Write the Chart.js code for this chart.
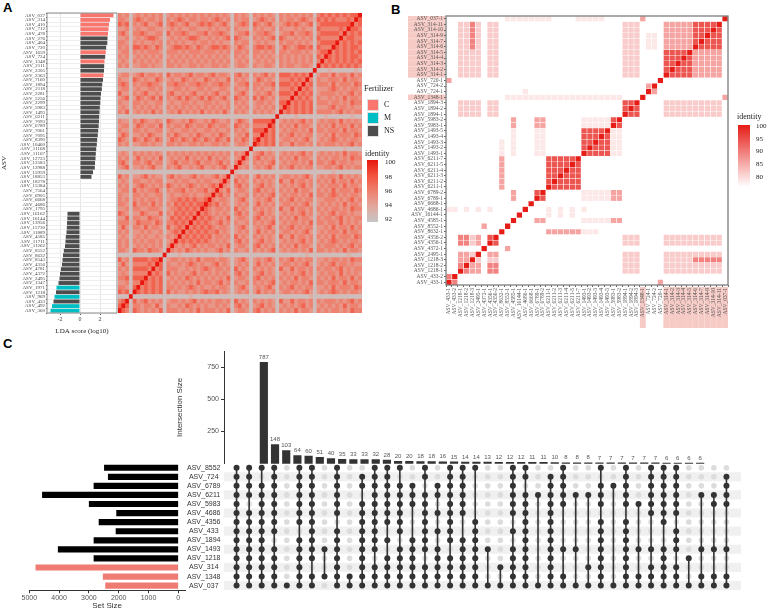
<!DOCTYPE html>
<html>
<head>
<meta charset="utf-8">
<title>LDA, identity heatmaps and UpSet plot</title>
<script src="https://cdn.jsdelivr.net/npm/chart.js@4.4.1/dist/chart.umd.min.js"></script>
<style>
  body { margin: 0; width: 767px; height: 611px; position: relative; overflow: hidden; background: #fff; }
  canvas { position: absolute; }
  .t { position: absolute; white-space: nowrap; color: #222; line-height: 1; }
  .serif { font-family: "Liberation Serif", "DejaVu Serif", serif; }
  .panel { font-family: "Liberation Sans", Arial, sans-serif; font-weight: bold; font-size: 13px; color: #000; }
  .key { position: absolute; width: 12px; height: 12px; border: 1px solid #e0e0e0; box-sizing: border-box; }
  .bar { position: absolute; }
</style>
</head>
<body>
<div class="t panel" style="left:3px;top:1px">A</div>
<div class="t panel" style="left:391px;top:3px">B</div>
<div class="t panel" style="left:3px;top:337px">C</div>

<canvas id="aBars" width="120" height="335" style="left:0;top:0"></canvas>
<canvas id="aHeat" width="244" height="300" style="left:118px;top:13px"></canvas>

<!-- legend of panel A -->
<div class="t serif" style="left:364px;top:85px;font-size:8px">Fertilizer</div>
<div class="key" id="keyC" style="left:367px;top:99px"></div>
<div class="key" id="keyM" style="left:367px;top:112px"></div>
<div class="key" id="keyNS" style="left:367px;top:125px"></div>
<div class="t serif" style="left:384px;top:101px;font-size:8px">C</div>
<div class="t serif" style="left:384px;top:114px;font-size:8px">M</div>
<div class="t serif" style="left:384px;top:127px;font-size:8px">NS</div>
<div class="t serif" style="left:365px;top:150px;font-size:8px">identity</div>
<div class="bar" id="barA" style="left:367px;top:160px;width:11px;height:62px"></div>
<div class="t serif" style="left:385px;top:159px;font-size:7px">100</div>
<div class="t serif" style="left:385px;top:174px;font-size:7px">98</div>
<div class="t serif" style="left:385px;top:188px;font-size:7px">96</div>
<div class="t serif" style="left:385px;top:202px;font-size:7px">94</div>
<div class="t serif" style="left:385px;top:216px;font-size:7px">92</div>

<canvas id="bHeat" width="335" height="320" style="left:400px;top:10px"></canvas>

<!-- legend of panel B -->
<div class="t serif" style="left:737px;top:113px;font-size:8px">identity</div>
<div class="bar" id="barB" style="left:738px;top:125px;width:12px;height:62px"></div>
<div class="t serif" style="left:756px;top:123px;font-size:7px">100</div>
<div class="t serif" style="left:756px;top:136px;font-size:7px">95</div>
<div class="t serif" style="left:756px;top:148px;font-size:7px">90</div>
<div class="t serif" style="left:756px;top:161px;font-size:7px">85</div>
<div class="t serif" style="left:756px;top:174px;font-size:7px">80</div>

<canvas id="cSets" width="240" height="155" style="left:0;top:456px"></canvas>
<canvas id="cInter" width="568" height="130" style="left:175px;top:340px"></canvas>
<canvas id="cMatrix" width="568" height="136" style="left:175px;top:458px"></canvas>

<script>
// ---------- panel A: LDA scores ----------
const ldaAsv = ['ASV_037','ASV_314','ASV_410','ASV_712','ASV_478','ASV_276','ASV_404','ASV_720','ASV_1659','ASV_724',
  'ASV_1348','ASV_2111','ASV_2305','ASV_2363','ASV_7160','ASV_1894','ASV_2118','ASV_2281','ASV_5256','ASV_2299',
  'ASV_5983','ASV_1493','ASV_6211','ASV_7093','ASV_6789','ASV_7061','ASV_7095','ASV_8390','ASV_10460','ASV_11168',
  'ASV_11167','ASV_12723','ASV_12583','ASV_12988','ASV_15959','ASV_18853','ASV_18278','ASV_15384','ASV_7564','ASV_6905',
  'ASV_6668','ASV_4686','ASV_1795','ASV_16162','ASV_16144','ASV_13956','ASV_15730','ASV_11889','ASV_4585','ASV_11711',
  'ASV_11262','ASV_8552','ASV_8632','ASV_8543','ASV_4356','ASV_4781','ASV_4372','ASV_2495','ASV_1347','ASV_1971',
  'ASV_1218','ASV_969','ASV_433','ASV_492','ASV_360'];
const ldaScore = [3.35, 3.0, 2.9, 2.85, 2.8, 2.75, 2.73, 2.62, 2.58, 2.52,
  2.45, 2.42, 2.4, 2.35, 2.3, 2.22, 2.18, 2.1, 2.05, 2.02,
  1.98, 1.95, 1.92, 1.9, 1.87, 1.82, 1.78, 1.72, 1.68, 1.62,
  1.58, 1.55, 1.5, 1.48, 1.3, 1.15, null, null, null, null,
  null, null, null, -1.25, -1.27, -1.3, -1.32, -1.35, -1.42, -1.45,
  -1.5, -1.62, -1.7, -1.75, -1.8, -1.9, -2.0, -2.05, -2.15, -2.35,
  -2.4, -2.55, -2.65, -2.8, -2.95];
const ldaGroup = ['C','C','C','C','C','NS','NS','NS','C','NS',
  'C','NS','NS','C','NS','NS','NS','NS','NS','NS',
  'NS','NS','NS','NS','NS','NS','NS','NS','NS','NS',
  'NS','NS','NS','NS','NS','NS','NS','NS','NS','NS',
  'NS','NS','NS','NS','NS','NS','NS','NS','NS','NS',
  'NS','NS','NS','NS','NS','NS','NS','NS','NS','M',
  'NS','M','NS','M','M'];
const ldaTicks = [-2, 0, 2];
const fertColours = { C: '#F8766D', M: '#00BFC4', NS: '#4D4D4D' };

// panel A identity: lower triangle, row i holds pairs (i, j<i); digits are identity levels
const aLevels = { '0': 92.6, '1': 93.6, '2': 94.9, '3': 95.9, '4': 97.3 };
const aLower = ['',
  '4', '43', '344', '4343', '33443', '434343', '3443434', '43434343', '344343434', '4343434343',
  '3434343434 3',
  '0100000010 00',
  '3242332423 320',
  '2332423332 2303',
  '3423332423 33043',
  '2332323432 220343',
  '3243232333 3204343',
  '2332423232 23034343',
  '3342323323 330434343',
  '2232332432 2204343434',
  '3323243233 3304343434 3',
  '0010000001 0000000100 00',
  '2323242332 3203243232 320',
  '3242332423 2302332423 2304',
  '2332423332 3304232332 32043',
  '3423332423 2203323243 230434',
  '2332323432 3202432323 3204343',
  '3243232333 2303233242 23043434',
  '0000100000 0000000000 000010000',
  '2332423232 3203243232 3202324320',
  '3342323323 2302332423 2303232430 3',
  '2232332432 3304232332 3204323230 23',
  '3323243233 2203323243 2302432320 323',
  '0000000100 0000000000 0000000000 0001',
  '2323242332 3202432323 3203232420 32320',
  '3242332423 2303233242 2402323230 232403',
  '2332423332 3203243232 3202324320 3243023',
  '3423332423 2302332423 2303232430 23320423',
  '2332323432 3304232332 3204323230 322303243',
  '3243232333 2203323243 2302432320 2432023323',
  '2332423232 3202432323 3203232420 3232023243 4',
  '3342323323 2303233242 2402323230 2324032332 34',
  '2232332432 3203243232 3202324320 3243023232 343',
  '3323243233 2302332423 2303232430 2332042323 4343',
  '2323242332 3304232332 3204323230 3223032432 34343',
  '3242332423 2203323243 2302432320 2432023323 434343',
  '2332423332 3202432323 3203232420 3232023243 3434343',
  '3423332423 2303233242 2402323230 2324032332 43434343',
  '2332323432 3203243232 3202324320 3243023232 343434343',
  '3243232333 2302332423 2303232430 2332042323 3232432323',
  '2332423232 3304232332 3204323230 3223032432 2323234232 3',
  '0001000000 0000100000 0000000000 0000000100 0000000010 00',
  '3342323323 2203323243 2302432320 2432023323 3324232323 320',
  '2232332432 3202432323 3203232420 3232023243 2232343232 2304',
  '3323243233 2303233242 2402323230 2324032332 3432323223 33043',
  '2323242332 3203243232 3202324320 3243023232 3232432323 240343',
  '3242332423 2302332423 2303232430 2332042323 2323234232 3204343',
  '2332423332 3304232332 3204323230 3223032432 3324232323 23043434',
  '3423332423 2203323243 2302432320 2432023323 2232343232 330434343',
  '2332323432 3202432323 3203232420 3232023243 3432323223 2404343434',
  '0000000000 0001000000 0000000000 0000000000 0000010000 0000000000 0',
  '3243232333 2303233242 2402323230 2324032332 3232432323 3203232432 40',
  '2332423232 3203243232 3202324320 3243023232 2323234232 2302423323 304',
  '3342323323 2302332423 2303232430 2332042323 3324232323 3304232323 4034'];

// ---------- panel B: pairwise identity of sequence variants ----------
const bAsv = ['ASV_433-1','ASV_433-2','ASV_1218-1','ASV_1218-2','ASV_1218-3','ASV_2495-1','ASV_4372-1','ASV_4356-1',
  'ASV_4356-2','ASV_8632-1','ASV_8552-1','ASV_4585-1','ASV_16144-1','ASV_4686-1','ASV_6668-1','ASV_6789-1',
  'ASV_6789-2','ASV_6211-1','ASV_6211-2','ASV_6211-3','ASV_6211-4','ASV_6211-5','ASV_6211-7','ASV_1493-1',
  'ASV_1493-2','ASV_1493-3','ASV_1493-4','ASV_1493-5','ASV_5983-1','ASV_5983-2','ASV_1894-1','ASV_1894-2',
  'ASV_1894-3','ASV_1348-1','ASV_724-1','ASV_724-2','ASV_720-1','ASV_314-1','ASV_314-2','ASV_314-3',
  'ASV_314-4','ASV_314-5','ASV_314-6','ASV_314-7','ASV_314-9','ASV_314-10','ASV_314-11','ASV_037-1'];
const bGroupC = ['ASV_037', 'ASV_314', 'ASV_1348'];
const bLevels = { '.': 80, a: 82, b: 84.5, c: 88, d: 91, e: 95, f: 100 };
const bRows = [
  'fd...... ........ ........ ........ ....c... ........',
  'df...... ........ ........ ........ ........ ........',
  '..fdcc.d d....... ........ ......bb b....bbb bbbbbbb.',
  '..dfcc.d d....... ........ ......bb b....bbb bbbbbbb.',
  '..ccfb.b b....... ........ ......bb b....bbb bbddddd.',
  '..ccbf.c c....... ........ ......bb b....bbb bbbbbbb.',
  '......f. ..c..... ........ ........ ........ ........',
  '..ddbc.f e....... ........ ......bb b....bbb bbbbbbb.',
  '..ddbc.e f....... ........ ......bb b....bbb bbbbbbb.',
  '........ .f...... .cccccca aa...... ........ ........',
  '......c. ..f..... ........ ........ ........ ........',
  '........ ...f...c c......a aaaacc.. ........ ........',
  '........ ....f... .a.a.a.. ........ ........ ........',
  'aa.a.a.a .....f.. .a.a.a.a ........ ........ ........',
  '........ ......f. ........ ........ ........ ........',
  '........ ...c...f e......a aaaacc.. ........ ........',
  '........ ...c...e f......a aaaacc.. ........ ........',
  '........ .c...... .feeeee. ........ ........ ........',
  '........ .c...... .efeeee. ........ ........ ........',
  '........ .c...... .eefeee. ........ ........ ........',
  '........ .c...... .eeefee. ........ ........ ........',
  '........ .c...... .eeeefe. ........ ........ ........',
  '........ .c...... .eeeeef. ........ ........ ........',
  '........ .a.a...a a......f eeeeaa.. ........ ........',
  '........ .a.a...a a......e feeeaa.. ........ ........',
  '........ .a.a...a a......e efeeaa.. ........ ........',
  '........ ...a...a a......e eefeaa.. ........ ........',
  '........ ...a...a a......e eeefaa.. ........ ........',
  '........ ...c...c c......a aaaafe.. ........ ........',
  '........ ...c...c c......a aaaaef.. ........ ........',
  '..bbbb.b b....... ........ ......fe e....bbb bbbbbbb.',
  '..bbbb.b b....... ........ ......ef e....bbb bbbbbbb.',
  '..bbbb.b b....... ........ ......ee f....bbb bbbbbbb.',
  '........ ..aaaaaa aaaaaaaa aaaaaa.. .f...... .......c',
  '........ .....a.. ........ ........ ..fc.... ........',
  '........ ........ ........ ........ ..cf.... ........',
  'c....... ........ ........ ........ ....f... ........',
  '..bbbb.b b....... ........ ......bb b....fee eeccccc.',
  '..bbbb.b b....... ........ ......bb b....efe eeccccc.',
  '..bbbb.b b....... ........ ......bb b....eef eeccccc.',
  '..bbbb.b b....... ........ ......bb b....eee feccccc.',
  '..bbbb.b b....... ........ ......bb b....eee efccccc.',
  '..bbdb.b b....... ........ ......bb b.aa.ccc ccfeeee.',
  '..bbdb.b b....... ........ ......bb b.aa.ccc ccefeee.',
  '..bbdb.b b....... ........ ......bb b.aa.ccc cceefee.',
  '..bbdb.b b....... ........ ......bb b....ccc cceeefe.',
  '..bbdb.b b....... ........ ......bb b....ccc cceeeef.',
  '........ ..aaaaaa aa....aa aaa..... .c...... .......f'];

// ---------- panel C: UpSet ----------
const setNames = ['ASV_8552','ASV_724','ASV_6789','ASV_6211','ASV_5983','ASV_4686','ASV_4356',
  'ASV_433','ASV_1894','ASV_1493','ASV_1218','ASV_314','ASV_1348','ASV_037'];
const setSizes = [2480, 2350, 2830, 4560, 2990, 2070, 2660, 2090, 2830, 4030, 2830, 4780, 2520, 2440];
const setGroup = ['NS','NS','NS','NS','NS','NS','NS','NS','NS','NS','NS','C','C','C'];
const setTicks = [0, 1000, 2000, 3000, 4000, 5000];
const interSizes = [787, 148, 103, 64, 60, 51, 40, 35, 33, 33, 32, 28, 20, 20, 18, 18, 16, 15, 14, 14,
  13, 12, 12, 12, 11, 11, 10, 8, 8, 8, 7, 7, 7, 7, 7, 7, 6, 6, 6, 6];
const interTicks = [250, 500, 750];
// one string per intersection, one character per set (top row first): 1 = member
const interMembers = ['11111111111111','11110111111111','10111111111111','11111111011111','00000000000001',
  '11111110111111','11111111111011','00000000010010','11111101111111','00000000000011',
  '01101111111111','11111111110111','11111110101111','10111111011111','00111000111111',
  '11011111110111','00110101011111','11111111101111','11111100111111','10000011111111',
  '00000000010001','00000000000101','11111101011111','11011111111111','00010000000001',
  '01111111111111','11111000010011','00010000010001','00010000000101','10111011111111',
  '00100000000001','11111011111111','00001000010011','11111100010111','11111110011111',
  '11111101110111','00000000001001','00010000010011','00011000010011','01111000010011'];

// ---------- helpers ----------
const serif = '"Liberation Serif", "DejaVu Serif", serif';
const sans = '"Liberation Sans", Arial, sans-serif';
const stopsA = [[92, [198, 198, 198]], [94, [226, 168, 158]], [96, [238, 128, 110]], [98, [242, 82, 62]], [100, [232, 22, 14]]];
const stopsB = [[80, [255, 255, 255]], [100, [230, 28, 22]]];

function ramp(stops, v) {
  if (v <= stops[0][0]) return `rgb(${stops[0][1].join(',')})`;
  for (let i = 1; i < stops.length; i++) {
    if (v <= stops[i][0]) {
      const [v0, c0] = stops[i - 1], [v1, c1] = stops[i];
      const t = (v - v0) / (v1 - v0);
      return `rgb(${c0.map((c, j) => Math.round(c + (c1[j] - c) * t)).join(',')})`;
    }
  }
  return `rgb(${stops[stops.length - 1][1].join(',')})`;
}
function gradient(stops) {
  const lo = stops[0][0], hi = stops[stops.length - 1][0];
  return 'linear-gradient(to top,' + stops.map(s => `rgb(${s[1].join(',')}) ${((s[0] - lo) / (hi - lo) * 100).toFixed(0)}%`).join(',') + ')';
}

const aTri = aLower.map(s => s.replace(/ /g, ''));
function identityA(i, j) {
  if (i === j) return 100;
  const ch = i > j ? aTri[i][j] : aTri[j][i];
  return aLevels[ch] ?? aLevels['2'];
}
const bCells = bRows.map(s => s.replace(/ /g, ''));

document.getElementById('keyC').style.background = fertColours.C;
document.getElementById('keyM').style.background = fertColours.M;
document.getElementById('keyNS').style.background = fertColours.NS;
document.getElementById('barA').style.background = gradient(stopsA);
document.getElementById('barB').style.background = gradient(stopsB);

Chart.defaults.animation = false;
Chart.defaults.responsive = false;
Chart.defaults.plugins.legend.display = false;
Chart.defaults.plugins.tooltip.enabled = false;

// frame around the plot area
const frame = {
  id: 'frame',
  afterDraw(chart, args, opts) {
    const a = chart.chartArea, ctx = chart.ctx;
    ctx.save();
    ctx.strokeStyle = opts.color || '#888';
    ctx.lineWidth = opts.width || 1;
    ctx.strokeRect(a.left, a.top, a.right - a.left, a.bottom - a.top);
    ctx.restore();
  }
};

// A: LDA bars
new Chart(document.getElementById('aBars'), {
  type: 'bar',
  data: {
    labels: ldaAsv,
    datasets: [{ data: ldaScore, backgroundColor: ldaGroup.map(g => fertColours[g]), barPercentage: 0.84, categoryPercentage: 1 }]
  },
  options: {
    indexAxis: 'y',
    layout: { padding: { top: 13, right: 3 } },
    plugins: { frame: { color: '#8a8a8a' } },
    scales: {
      x: {
        min: -3.3, max: 3.7,
        afterBuildTicks: s => { s.ticks = ldaTicks.map(v => ({ value: v })); },
        afterFit: s => { s.height = 22; },
        grid: { color: '#e6e6e6', tickLength: 2, tickColor: '#555' },
        border: { display: false },
        ticks: { font: { family: serif, size: 6 }, color: '#444', padding: 1 },
        title: { display: true, text: 'LDA score (log10)', font: { family: serif, size: 7 }, color: '#222', padding: 0 }
      },
      y: {
        afterFit: s => { s.width = 47; },
        grid: { color: '#eeeeee', tickLength: 1, tickColor: '#555' },
        border: { display: false },
        ticks: { autoSkip: false, font: { family: serif, size: 5 }, color: '#444', padding: 1 },
        title: { display: true, text: 'ASV', font: { family: serif, size: 7 }, color: '#222', padding: 0 }
      }
    }
  },
  plugins: [frame]
});

// A: identity heatmap, each row of cells is one floating-bar dataset
const aCols = ldaAsv.map((_, c) => c);
const nA = ldaAsv.length;
new Chart(document.getElementById('aHeat'), {
  type: 'bar',
  data: {
    labels: aCols,
    datasets: ldaAsv.map((_, k) => ({
      data: aCols.map(() => [k, k + 1]),
      backgroundColor: aCols.map(c => ramp(stopsA, identityA(nA - 1 - c, nA - 1 - k))),
      borderWidth: 0, grouped: false, barPercentage: 1, categoryPercentage: 1
    }))
  },
  options: {
    layout: { padding: 0 },
    scales: { x: { display: false }, y: { display: false, min: 0, max: nA } }
  }
});

// B: pink tags behind the labels of fertilizer-C variants
const tagC = {
  id: 'tagC',
  beforeDraw(chart) {
    const { ctx, chartArea: a, scales: { x, y } } = chart;
    const hw = (a.right - a.left) / bAsv.length / 2, hh = (a.bottom - a.top) / bAsv.length / 2;
    ctx.save();
    ctx.fillStyle = '#f6cbc6';
    bAsv.forEach((name, k) => {
      if (!bGroupC.includes(name.split('-')[0])) return;
      const py = y.getPixelForValue(k + 0.5), px = x.getPixelForValue(k);
      ctx.fillRect(8, py - hh, a.left - 9, hh * 2);
      ctx.fillRect(px - hw, a.bottom + 2, hw * 2, 41);
    });
    ctx.restore();
  }
};

new Chart(document.getElementById('bHeat'), {
  type: 'bar',
  data: {
    labels: bAsv,
    datasets: bAsv.map((_, k) => ({
      data: bAsv.map(() => [k, k + 1]),
      backgroundColor: bAsv.map((_, c) => ramp(stopsB, bLevels[bCells[k][c]] ?? 80)),
      borderColor: 'rgba(255,255,255,0.5)', borderWidth: 0.6,
      grouped: false, barPercentage: 1, categoryPercentage: 1
    }))
  },
  options: {
    layout: { padding: { top: 6, right: 7 } },
    plugins: { frame: { color: '#7d7d7d', width: 1.3 } },
    scales: {
      x: {
        afterFit: s => { s.height = 45; },
        grid: { drawOnChartArea: false, tickLength: 2, color: '#666' },
        border: { display: false },
        ticks: { autoSkip: false, minRotation: 90, maxRotation: 90, font: { family: serif, size: 5.5 }, color: '#555', padding: 1 }
      },
      y: {
        min: 0, max: bAsv.length,
        afterFit: s => { s.width = 46; },
        afterBuildTicks: s => { s.ticks = bAsv.map((_, k) => ({ value: k + 0.5 })); },
        grid: { drawOnChartArea: false, tickLength: 2, color: '#666' },
        border: { display: false },
        ticks: { autoSkip: false, font: { family: serif, size: 5.5 }, color: '#555', padding: 1, callback: (v, i) => bAsv[i] }
      }
    }
  },
  plugins: [frame, tagC]
});

// C: intersection sizes
const barValues = {
  id: 'barValues',
  afterDatasetsDraw(chart) {
    const ctx = chart.ctx;
    ctx.save();
    ctx.font = `6px ${sans}`;
    ctx.fillStyle = '#555';
    ctx.textAlign = 'center';
    ctx.textBaseline = 'bottom';
    chart.getDatasetMeta(0).data.forEach((bar, i) => ctx.fillText(interSizes[i], bar.x, bar.y - 2));
    ctx.restore();
  }
};

new Chart(document.getElementById('cInter'), {
  type: 'bar',
  data: { datasets: [{ data: interSizes.map((v, k) => ({ x: k, y: v })), backgroundColor: '#333333', barThickness: 7.5 }] },
  options: {
    layout: { padding: { top: 11, right: 3, bottom: 5 } },
    scales: {
      x: { type: 'linear', min: -1, max: interSizes.length, display: false },
      y: {
        min: 0, max: 874,
        afterFit: s => { s.width = 49; },
        afterBuildTicks: s => { s.ticks = interTicks.map(v => ({ value: v })); },
        grid: { drawOnChartArea: false, tickLength: 3, color: '#333' },
        border: { color: '#333' },
        ticks: { font: { family: sans, size: 7 }, color: '#555', padding: 2, callback: v => String(v) },
        title: { display: true, text: 'Intersection Size', font: { family: sans, size: 8 }, color: '#333', padding: 0 }
      }
    }
  },
  plugins: [barValues]
});

// C: membership matrix
const dotsOn = [], dotsOff = [], links = [];
interMembers.forEach((m, k) => {
  const rows = [];
  for (let r = 0; r < m.length; r++) {
    if (m[r] === '1') { rows.push(r); dotsOn.push({ x: k, y: r }); }
    else dotsOff.push({ x: k, y: r });
  }
  if (rows.length > 1) {
    links.push({
      data: [{ x: k, y: rows[0] }, { x: k, y: rows[rows.length - 1] }],
      showLine: true, borderColor: '#333', borderWidth: 1.6, pointRadius: 0, order: 1
    });
  }
});

const zebra = {
  id: 'zebra',
  beforeDatasetsDraw(chart) {
    const { ctx, chartArea: a, scales: { y } } = chart;
    ctx.save();
    ctx.fillStyle = '#f0f0f0';
    for (let r = 1; r < setNames.length; r += 2) {
      const y0 = y.getPixelForValue(r - 0.5), y1 = y.getPixelForValue(r + 0.5);
      ctx.fillRect(a.left, Math.min(y0, y1), a.right + 2 - a.left, Math.abs(y1 - y0));
    }
    ctx.restore();
  }
};

new Chart(document.getElementById('cMatrix'), {
  type: 'scatter',
  data: {
    datasets: [
      { data: dotsOn, pointRadius: 3, pointBackgroundColor: '#333', pointBorderWidth: 0, order: 0 },
      ...links,
      { data: dotsOff, pointRadius: 2.8, pointBackgroundColor: '#dcdcdc', pointBorderWidth: 0, order: 2 }
    ]
  },
  options: {
    layout: { padding: { left: 49, right: 3, top: 5.2, bottom: 3.8 } },
    scales: {
      x: { type: 'linear', min: -1, max: interSizes.length, display: false },
      y: { type: 'linear', min: -0.5, max: setNames.length - 0.5, reverse: true, display: false }
    }
  },
  plugins: [zebra]
});

// C: set sizes
new Chart(document.getElementById('cSets'), {
  type: 'bar',
  data: {
    labels: setNames,
    datasets: [{ data: setSizes, backgroundColor: setGroup.map(g => g === 'C' ? '#F07B72' : '#000000'), barThickness: 5.5 }]
  },
  options: {
    indexAxis: 'y',
    layout: { padding: { left: 29.3, top: 7.2 } },
    scales: {
      x: {
        reverse: true, min: -225, max: 5000,
        afterBuildTicks: s => { s.ticks = setTicks.map(v => ({ value: v })); },
        afterFit: s => { s.height = 20.8; },
        grid: { drawOnChartArea: false, tickLength: 3, color: '#333' },
        border: { color: '#333' },
        ticks: { font: { family: sans, size: 7 }, color: '#555', padding: 1, callback: v => String(v) },
        title: { display: true, text: 'Set Size', font: { family: sans, size: 8 }, color: '#333', padding: 0 }
      },
      y: {
        position: 'right',
        afterFit: s => { s.width = 55; },
        grid: { display: false, drawTicks: false },
        border: { display: false },
        ticks: { autoSkip: false, crossAlign: 'center', font: { family: sans, size: 7 }, color: '#333', padding: 2 }
      }
    }
  }
});
</script>
</body>
</html>
